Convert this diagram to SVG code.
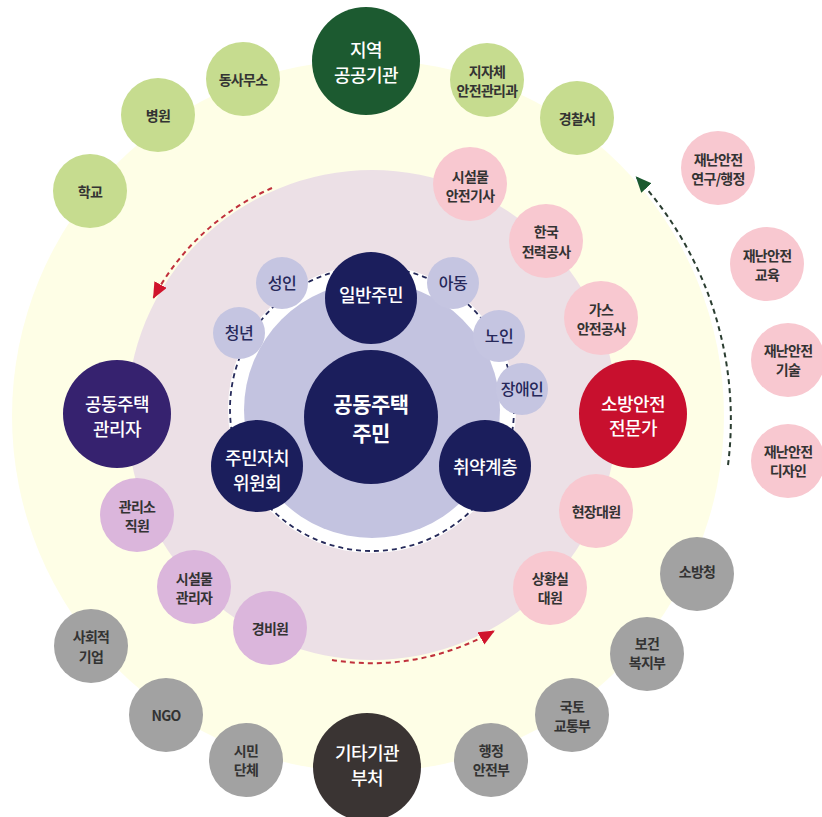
<svg xmlns="http://www.w3.org/2000/svg" width="822" height="817" viewBox="0 0 822 817">
<defs>
<style>
.t{font-family:"Noto Sans CJK KR","Noto Sans",sans-serif;text-anchor:middle;dominant-baseline:central}
.s{font-size:14px;fill:#333333;font-weight:700;letter-spacing:-0.7px}
.l{font-size:16px;fill:#26285a;font-weight:500;letter-spacing:-0.5px}
.b{font-size:18px;fill:#ffffff;font-weight:500;letter-spacing:-0.5px}
.c{font-size:21px;fill:#ffffff;font-weight:700;letter-spacing:-0.5px}
.g{fill:#c6dc8f}.gd{fill:#1c5a30}.p{fill:#f8c8d0}.r{fill:#c8102e}.y{fill:#a2a2a2}.yd{fill:#3a3433}
.pu{fill:#36226f}.m{fill:#dbb6dc}.n{fill:#1b1e5c}.lv{fill:#c5c5e1}
.red{fill:none;stroke:#c0303c;stroke-width:2;stroke-dasharray:5 4}
.grn{fill:none;stroke:#2a3d30;stroke-width:2;stroke-dasharray:5 4}
.nav{fill:none;stroke:#262a5a;stroke-width:1.8;stroke-dasharray:5 4}
</style>
<marker id="ar" markerUnits="userSpaceOnUse" markerWidth="18" markerHeight="16" refX="15" refY="7" orient="auto">
<path d="M0,0 L16,7 L0,14 z" fill="#d0142c"/>
</marker>
<marker id="ag" markerUnits="userSpaceOnUse" markerWidth="18" markerHeight="16" refX="15" refY="7" orient="auto">
<path d="M0,0 L16,7 L0,14 z" fill="#1c5a30"/>
</marker>
</defs>
<rect width="822" height="817" fill="#ffffff"/>
<g id="background">
<circle cx="368" cy="416" r="356" fill="#fefee6"/>
<circle cx="372" cy="415" r="245" fill="#ece0e6"/>
<circle cx="372" cy="409" r="144" fill="#ffffff"/>
<circle cx="372" cy="410" r="128" fill="#c3c3e0"/>
</g>
<g id="connectors">
<circle class="nav" cx="372" cy="409" r="142"/>
<path class="red" d="M272,188 A248,248 0 0 0 153.5,297.8" marker-end="url(#ar)"/>
<path class="red" d="M332,660 A248,248 0 0 0 494,631" marker-end="url(#ar)"/>
<path class="grn" d="M728,465 A359,359 0 0 0 636.3,177" marker-end="url(#ag)"/>
</g>
<g id="n-center"><circle class="n" cx="371" cy="417" r="67"/><text class="t c" x="371" y="403">공동주택</text><text class="t c" x="371" y="432">주민</text></g>
<g id="n-ilban"><circle class="n" cx="371" cy="298" r="46"/><text class="t b" x="371" y="294">일반주민</text></g>
<g id="n-jumin"><circle class="n" cx="257" cy="466" r="46"/><text class="t b"><tspan x="257" y="457">주민자치</tspan><tspan x="257" y="482">위원회</tspan></text></g>
<g id="n-chwiyak"><circle class="n" cx="485" cy="466" r="46"/><text class="t b" x="485" y="466">취약계층</text></g>
<g id="n-seongin"><circle class="lv" cx="282" cy="283" r="26"/><text class="t l" x="282" y="282">성인</text></g>
<g id="n-cheongnyeon"><circle class="lv" cx="239" cy="333" r="26"/><text class="t l" x="239" y="332">청년</text></g>
<g id="n-adong"><circle class="lv" cx="453" cy="283" r="26"/><text class="t l" x="453" y="282">아동</text></g>
<g id="n-noin"><circle class="lv" cx="499" cy="336" r="26"/><text class="t l" x="499" y="335">노인</text></g>
<g id="n-jangaein"><circle class="lv" cx="522" cy="389" r="26"/><text class="t l" x="522" y="388">장애인</text></g>
<g id="n-gwanrija"><circle class="pu" cx="117" cy="414" r="54"/><text class="t b"><tspan x="117" y="403">공동주택</tspan><tspan x="117" y="428">관리자</tspan></text></g>
<g id="n-gwanriso"><circle class="m" cx="137" cy="515" r="37"/><text class="t s"><tspan x="137" y="506">관리소</tspan><tspan x="137" y="525">직원</tspan></text></g>
<g id="n-siseolgwanri"><circle class="m" cx="194" cy="587" r="37"/><text class="t s"><tspan x="194" y="578">시설물</tspan><tspan x="194" y="597">관리자</tspan></text></g>
<g id="n-gyeongbi"><circle class="m" cx="270" cy="628" r="37"/><text class="t s" x="270" y="628">경비원</text></g>
<g id="n-siseolanjeon"><circle class="p" cx="470" cy="184" r="37"/><text class="t s"><tspan x="470" y="176">시설물</tspan><tspan x="470" y="195">안전기사</tspan></text></g>
<g id="n-hanjeon"><circle class="p" cx="546" cy="241" r="37"/><text class="t s"><tspan x="546" y="231">한국</tspan><tspan x="546" y="251">전력공사</tspan></text></g>
<g id="n-gas"><circle class="p" cx="601" cy="318" r="37"/><text class="t s"><tspan x="601" y="309">가스</tspan><tspan x="601" y="328">안전공사</tspan></text></g>
<g id="n-sobang"><circle class="r" cx="633" cy="414" r="54"/><text class="t b"><tspan x="633" y="403">소방안전</tspan><tspan x="633" y="427">전문가</tspan></text></g>
<g id="n-hyeonjang"><circle class="p" cx="596" cy="511" r="37"/><text class="t s" x="596" y="511">현장대원</text></g>
<g id="n-sanghwang"><circle class="p" cx="550" cy="588" r="37"/><text class="t s"><tspan x="550" y="578">상황실</tspan><tspan x="550" y="597">대원</tspan></text></g>
<g id="n-hakgyo"><circle class="g" cx="90" cy="191" r="37"/><text class="t s" x="90" y="191">학교</text></g>
<g id="n-byeongwon"><circle class="g" cx="158" cy="115" r="37"/><text class="t s" x="158" y="115">병원</text></g>
<g id="n-dongsamuso"><circle class="g" cx="243" cy="79" r="37"/><text class="t s" x="243" y="79">동사무소</text></g>
<g id="n-jiyeok"><circle class="gd" cx="366" cy="61" r="54"/><text class="t b"><tspan x="366" y="49">지역</tspan><tspan x="366" y="74">공공기관</tspan></text></g>
<g id="n-jijache"><circle class="g" cx="487" cy="80" r="37"/><text class="t s"><tspan x="487" y="71">지자체</tspan><tspan x="487" y="90">안전관리과</tspan></text></g>
<g id="n-gyeongchal"><circle class="g" cx="577" cy="118" r="37"/><text class="t s" x="577" y="118">경찰서</text></g>
<g id="n-yeongu"><circle class="p" cx="718" cy="168" r="37"/><text class="t s"><tspan x="718" y="159">재난안전</tspan><tspan x="718" y="178">연구/행정</tspan></text></g>
<g id="n-gyoyuk"><circle class="p" cx="767" cy="264" r="37"/><text class="t s"><tspan x="767" y="255">재난안전</tspan><tspan x="767" y="274">교육</tspan></text></g>
<g id="n-gisul"><circle class="p" cx="788" cy="360" r="37"/><text class="t s"><tspan x="788" y="350">재난안전</tspan><tspan x="788" y="369">기술</tspan></text></g>
<g id="n-design"><circle class="p" cx="788" cy="461" r="37"/><text class="t s"><tspan x="788" y="451">재난안전</tspan><tspan x="788" y="470">디자인</tspan></text></g>
<g id="n-sobangcheong"><circle class="y" cx="697" cy="574" r="37"/><text class="t s" x="697" y="571">소방청</text></g>
<g id="n-bokji"><circle class="y" cx="647" cy="654" r="37"/><text class="t s"><tspan x="647" y="643">보건</tspan><tspan x="647" y="662">복지부</tspan></text></g>
<g id="n-gukto"><circle class="y" cx="572" cy="715" r="37"/><text class="t s"><tspan x="572" y="706">국토</tspan><tspan x="572" y="725">교통부</tspan></text></g>
<g id="n-haengjeong"><circle class="y" cx="491" cy="760" r="37"/><text class="t s"><tspan x="491" y="750">행정</tspan><tspan x="491" y="769">안전부</tspan></text></g>
<g id="n-gita"><circle class="yd" cx="367" cy="767" r="54"/><text class="t b"><tspan x="367" y="752">기타기관</tspan><tspan x="367" y="777">부처</tspan></text></g>
<g id="n-simin"><circle class="y" cx="246" cy="760" r="37"/><text class="t s"><tspan x="246" y="750">시민</tspan><tspan x="246" y="769">단체</tspan></text></g>
<g id="n-ngo"><circle class="y" cx="166" cy="715" r="37"/><text class="t s" x="166" y="715">NGO</text></g>
<g id="n-sahoe"><circle class="y" cx="91" cy="646" r="37"/><text class="t s"><tspan x="91" y="636">사회적</tspan><tspan x="91" y="656">기업</tspan></text></g>
</svg>
